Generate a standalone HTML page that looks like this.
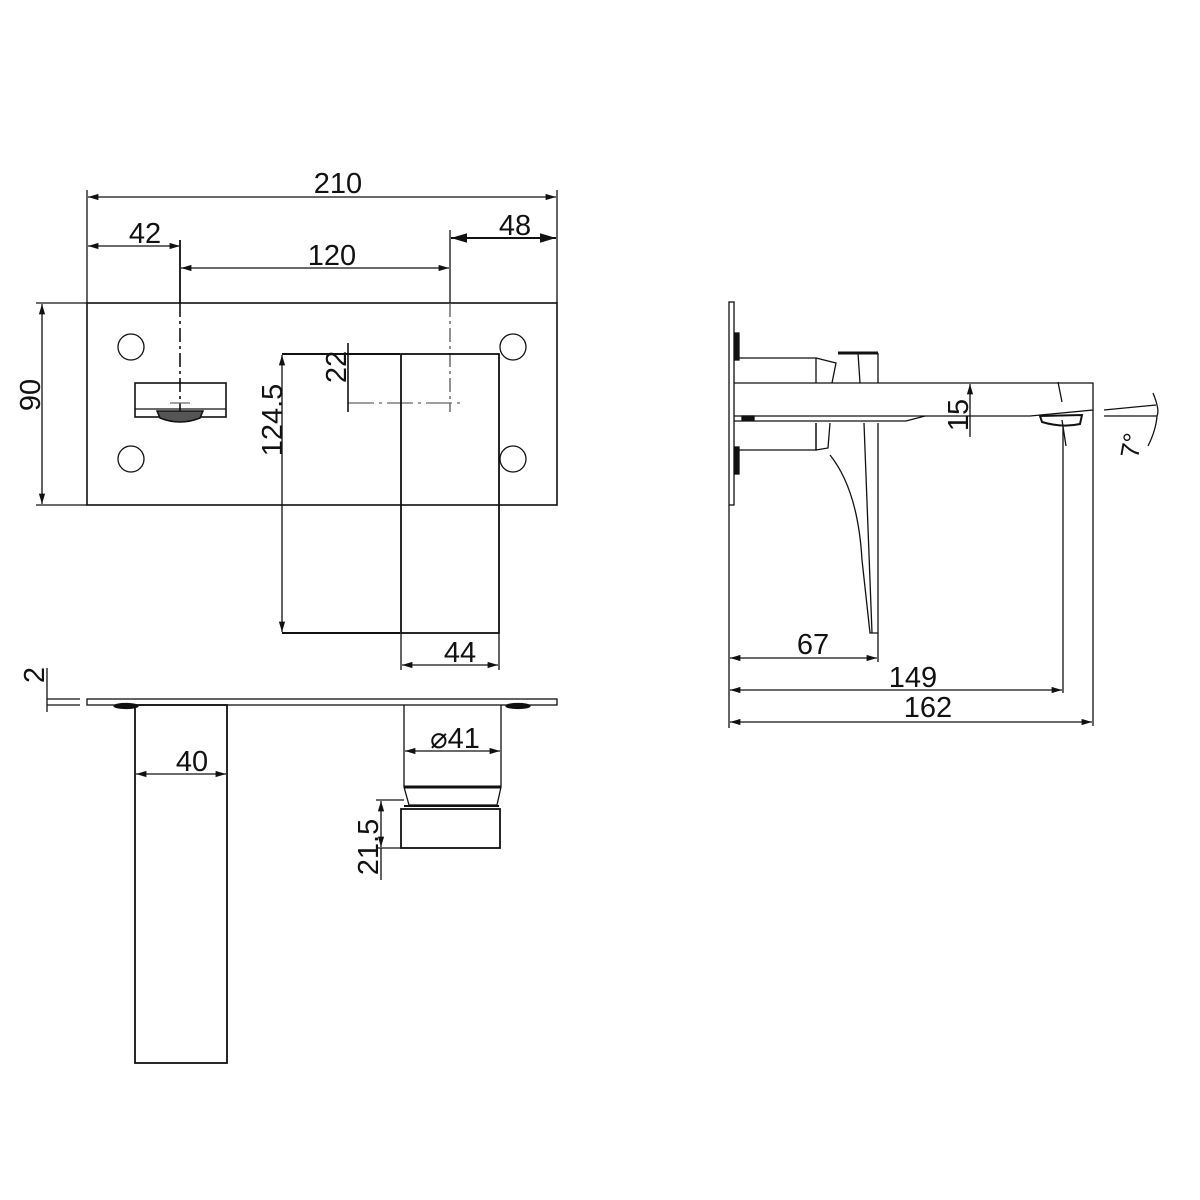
<!DOCTYPE html>
<html><head><meta charset="utf-8"><style>html,body{margin:0;padding:0;background:#fff}svg{display:block}</style></head>
<body>
<svg width="1200" height="1200" viewBox="0 0 1200 1200" xmlns="http://www.w3.org/2000/svg">
<defs>
<marker id="a" viewBox="0 0 10 6" refX="10" refY="3" markerWidth="8" markerHeight="5" orient="auto-start-reverse"><path d="M0,0L10,3L0,6z" fill="#111"/></marker>
</defs>
<g fill="none" stroke="#111" stroke-width="1.3">
<rect x="87" y="303" width="470" height="202" stroke-width="1.6"/>
<line x1="87" y1="190" x2="87" y2="303"/>
<line x1="557" y1="190" x2="557" y2="303"/>
<line x1="450" y1="230" x2="450" y2="303"/>
<line x1="180" y1="240" x2="180" y2="303" stroke-width="1.8"/>
<line x1="88" y1="197" x2="556" y2="197" marker-start="url(#a)" marker-end="url(#a)"/>
<line x1="88" y1="246" x2="180" y2="246" marker-start="url(#a)" marker-end="url(#a)"/>
<line x1="451" y1="238" x2="556" y2="238" marker-start="url(#a)" marker-end="url(#a)" stroke-width="2"/>
<line x1="181" y1="268" x2="449" y2="268" marker-start="url(#a)" marker-end="url(#a)"/>
<line x1="180" y1="303" x2="180" y2="420" stroke-dasharray="14,4,3,4" stroke-width="1.6"/>
<line x1="450" y1="303" x2="450" y2="412" stroke-dasharray="14,4,3,4" stroke="#555"/>
<line x1="348" y1="403" x2="460" y2="403" stroke-dasharray="26,5,3,5" stroke="#666"/>
<line x1="170" y1="403" x2="190" y2="403" stroke="#666"/>
<circle cx="131" cy="347" r="13"/><circle cx="131" cy="459" r="13"/>
<circle cx="513" cy="347" r="13"/><circle cx="513" cy="459" r="13"/>
<rect x="135" y="383" width="91" height="34" stroke-width="1.6"/>
<line x1="135" y1="409" x2="226" y2="409"/>
<path d="M157,411 L203,411 L200,418 Q180,426 160,418 Z" fill="#555" stroke-width="1.5"/>
<line x1="282" y1="354" x2="400" y2="354" stroke-width="2"/>
<line x1="282" y1="633" x2="400" y2="633" stroke-width="2"/>
<rect x="401" y="354" width="98" height="279" stroke-width="1.8"/>
<line x1="282" y1="355" x2="282" y2="632" marker-start="url(#a)" marker-end="url(#a)"/>
<line x1="348" y1="343" x2="348" y2="412" stroke-width="1.6"/>
<line x1="348" y1="354" x2="356" y2="354"/>
<line x1="401" y1="633" x2="401" y2="670"/><line x1="499" y1="633" x2="499" y2="670"/>
<line x1="402" y1="665" x2="498" y2="665" marker-start="url(#a)" marker-end="url(#a)"/>
<line x1="36" y1="303" x2="87" y2="303"/><line x1="36" y1="505" x2="87" y2="505"/>
<line x1="42" y1="304" x2="42" y2="504" marker-start="url(#a)" marker-end="url(#a)"/>

<rect x="87" y="699" width="470" height="6"/>
<line x1="47" y1="699" x2="80" y2="699"/><line x1="47" y1="705" x2="80" y2="705"/>
<line x1="47" y1="668" x2="47" y2="712"/>
<ellipse cx="126" cy="706" rx="12" ry="2.5" fill="#111"/>
<ellipse cx="518" cy="706" rx="12" ry="2.5" fill="#111"/>
<rect x="135" y="705" width="92" height="358" stroke-width="1.8"/>
<line x1="136" y1="774" x2="226" y2="774" marker-start="url(#a)" marker-end="url(#a)"/>
<line x1="404" y1="705" x2="404" y2="787"/><line x1="501" y1="705" x2="501" y2="787"/>
<line x1="405" y1="751" x2="500" y2="751" marker-start="url(#a)" marker-end="url(#a)"/>
<line x1="404" y1="787" x2="501" y2="787" stroke-width="3"/>
<path d="M404,787 L409,805 L497,805 L501,787"/>
<line x1="404" y1="806" x2="499" y2="806" stroke-width="2"/>
<rect x="401" y="809" width="99" height="39" stroke-width="1.8"/>
<line x1="376" y1="800" x2="404" y2="800"/><line x1="376" y1="848" x2="401" y2="848"/>
<line x1="381" y1="801" x2="381" y2="847" marker-start="url(#a)" marker-end="url(#a)"/>
<line x1="381" y1="848" x2="381" y2="880"/>

<rect x="729" y="302" width="5" height="203"/>
<rect x="735" y="333" width="4" height="27" fill="#111"/>
<rect x="735" y="447" width="4" height="27" fill="#111"/>
<path d="M734,358 L816,358 L816,383"/>
<path d="M734,450 L816,450 L816,423"/>
<path d="M816,358 L836,363 L832,383"/>
<line x1="838" y1="353" x2="878" y2="353" stroke-width="3"/>
<path d="M878,353 L878,383 M858,353 L860,383"/>
<path d="M734,383 L1093,383 L1093,410 L1030,416"/>
<line x1="734" y1="416" x2="1030" y2="416"/>
<line x1="734" y1="421" x2="906" y2="421"/>
<path d="M906,421 L925,416"/>
<rect x="742" y="416" width="12" height="4" fill="#111"/>
<path d="M1040,416 L1082,415 L1080,424 Q1062,428 1042,422 Z" stroke-width="2"/>
<path d="M816,423 L816,450 L828,448 L830,423"/>
<path d="M830,455 Q858,490 862,560 L870,633 L878,633 L878,423"/>
<path d="M864,423 L872,633"/>
<line x1="729" y1="505" x2="729" y2="728"/>
<line x1="878" y1="633" x2="878" y2="662"/>
<line x1="1063" y1="426" x2="1063" y2="693"/>
<line x1="1093" y1="410" x2="1093" y2="726"/>
<line x1="730" y1="658" x2="877" y2="658" marker-start="url(#a)" marker-end="url(#a)"/>
<line x1="730" y1="690" x2="1062" y2="690" marker-start="url(#a)" marker-end="url(#a)"/>
<line x1="730" y1="722" x2="1092" y2="722" marker-start="url(#a)" marker-end="url(#a)"/>
<line x1="970" y1="384" x2="970" y2="437" marker-start="url(#a)"/>
<line x1="1058" y1="382" x2="1062" y2="402"/>
<line x1="1062" y1="420" x2="1066" y2="446"/>
<line x1="1104" y1="410" x2="1156" y2="405"/>
<line x1="1104" y1="416" x2="1157" y2="416"/>
<path d="M1153,393 Q1160,410 1157,416 Q1156,430 1148,446"/>
</g>
<g font-family="Liberation Sans, sans-serif" font-size="29" fill="#111" text-anchor="middle">
<text x="338" y="193">210</text>
<text x="145" y="243">42</text>
<text x="515" y="235">48</text>
<text x="332" y="265">120</text>
<text x="460" y="662">44</text>
<text x="192" y="771">40</text>
<text x="455" y="748">⌀41</text>
<text x="813" y="654">67</text>
<text x="913" y="687">149</text>
<text x="928" y="717">162</text>
<text transform="translate(40,395) rotate(-90)">90</text>
<text transform="translate(282,420) rotate(-90)">124.5</text>
<text transform="translate(346,367) rotate(-90)">22</text>
<text transform="translate(44,675) rotate(-90)">2</text>
<text transform="translate(378,847) rotate(-90)">21.5</text>
<text transform="translate(968,415) rotate(-90)">15</text>
<text transform="translate(1140,447) rotate(-80)" font-size="26">7°</text>
</g>
</svg>
</body></html>
